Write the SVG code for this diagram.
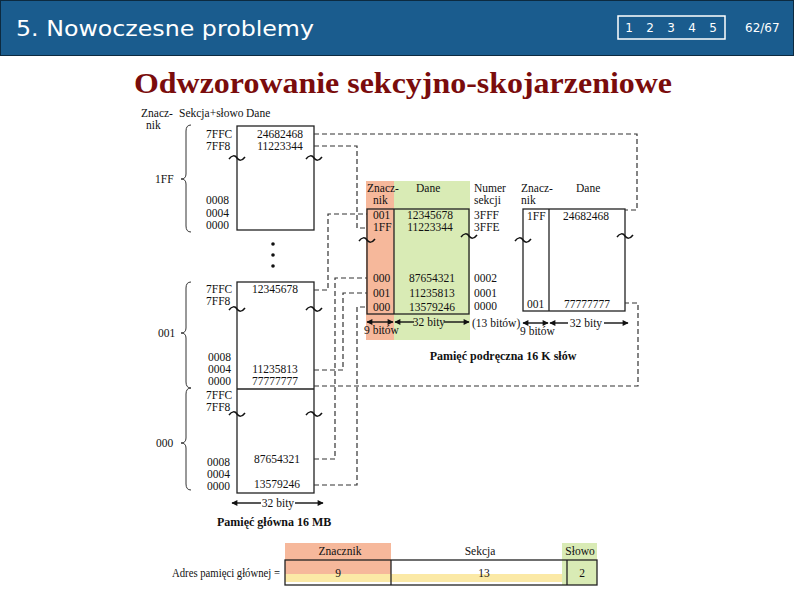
<svg xmlns="http://www.w3.org/2000/svg" width="794" height="595" viewBox="0 0 794 595">
<style>
.s{font-family:"Liberation Serif","Times New Roman",serif;font-size:11.5px;fill:#111}
.b{font-family:"Liberation Serif","Times New Roman",serif;font-size:12px;font-weight:bold;fill:#111}
.m{text-anchor:middle}
.box{fill:none;stroke:#222;stroke-width:1.3}
.til{fill:none;stroke:#111;stroke-width:1.5}
.br{fill:none;stroke:#333;stroke-width:1}
.d{fill:none;stroke:#333;stroke-width:1.2;stroke-dasharray:5 3}
.ar{stroke:#111;stroke-width:1.4;fill:none}
.hd{font-family:"DejaVu Sans",Verdana,sans-serif;fill:#fff}
</style>
<defs>
<marker id="ah" viewBox="0 0 10 10" refX="9" refY="5" markerWidth="10" markerHeight="6" orient="auto-start-reverse" markerUnits="userSpaceOnUse">
<path d="M0 0 L10 5 L0 10 Z" fill="#111"/>
</marker>
</defs>
<rect width="794" height="595" fill="#fff"/>
<g id="header">
<rect x="0.5" y="0.5" width="793" height="55" fill="#1a5c8e" stroke="#0c2a40" stroke-width="1"/>
<text class="hd" x="16" y="36" font-size="22" textLength="298" lengthAdjust="spacingAndGlyphs">5. Nowoczesne problemy</text>
<rect x="618" y="16" width="107" height="23" fill="none" stroke="#fff" stroke-width="1.5"/>
<text class="hd m" x="629" y="32" font-size="12">1</text>
<text class="hd m" x="650" y="32" font-size="12">2</text>
<text class="hd m" x="671" y="32" font-size="12">3</text>
<text class="hd m" x="692" y="32" font-size="12">4</text>
<text class="hd m" x="713" y="32" font-size="12">5</text>
<text class="hd" x="745" y="32" font-size="12">62/67</text>
</g>
<g id="title">
<text x="134" y="93" font-family="Liberation Serif,'Times New Roman',serif" font-size="30" font-weight="bold" fill="#7a0c0c" textLength="538" lengthAdjust="spacingAndGlyphs">Odwzorowanie sekcyjno-skojarzeniowe</text>
</g>
<g id="main-memory">
<text class="s" x="141" y="117">Znacz-</text>
<text class="s" x="146" y="129">nik</text>
<text class="s" x="179" y="117">Sekcja+słowo</text>
<text class="s" x="246" y="117">Dane</text>
<rect class="box" x="237" y="126" width="77" height="104"/>
<text class="s" x="206" y="138">7FFC</text>
<text class="s" x="206" y="150">7FF8</text>
<text class="s m" x="280" y="138">24682468</text>
<text class="s m" x="280" y="150">11223344</text>
<text class="s" x="206" y="204">0008</text>
<text class="s" x="206" y="217">0004</text>
<text class="s" x="206" y="229">0000</text>
<path class="br" d="M191 125 Q186 125 186 131 L186 174 Q186 179 181 179 Q186 179 186 184 L186 226 Q186 232 191 232"/>
<text class="s" x="155" y="183">1FF</text>
<circle cx="273" cy="244" r="1.8" fill="#111"/>
<circle cx="273" cy="255" r="1.8" fill="#111"/>
<circle cx="273" cy="266" r="1.8" fill="#111"/>
<rect class="box" x="237" y="282" width="77" height="211"/>
<line x1="237" y1="389" x2="314" y2="389" stroke="#222" stroke-width="1.3"/>
<text class="s" x="206" y="293">7FFC</text>
<text class="s" x="206" y="305">7FF8</text>
<text class="s m" x="275" y="293">12345678</text>
<text class="s" x="208" y="361">0008</text>
<text class="s" x="208" y="373">0004</text>
<text class="s" x="208" y="385">0000</text>
<text class="s m" x="275" y="373">11235813</text>
<text class="s m" x="275" y="385">77777777</text>
<text class="s" x="206" y="399">7FFC</text>
<text class="s" x="206" y="411">7FF8</text>
<text class="s m" x="277" y="463">87654321</text>
<text class="s m" x="277" y="488">13579246</text>
<text class="s" x="207" y="466">0008</text>
<text class="s" x="207" y="478">0004</text>
<text class="s" x="207" y="490">0000</text>
<path class="br" d="M191 282 Q186 282 186 288 L186 328 Q186 333 181 333 Q186 333 186 338 L186 382 Q186 388 191 388"/>
<text class="s" x="158" y="337">001</text>
<path class="br" d="M191 388 Q186 388 186 394 L186 438 Q186 443 181 443 Q186 443 186 448 L186 484 Q186 490 191 490"/>
<text class="s" x="156" y="447">000</text>
<path class="til" d="M229 159 C232 155 235 155 237 158 S242 161 245 157"/>
<path class="til" d="M306 159 C309 155 312 155 314 158 S319 161 322 157"/>
<path class="til" d="M229 310 C232 306 235 306 237 309 S242 312 245 308"/>
<path class="til" d="M306 310 C309 306 312 306 314 309 S319 312 322 308"/>
<path class="til" d="M229 415 C232 411 235 411 237 414 S242 417 245 413"/>
<path class="til" d="M306 415 C309 411 312 411 314 414 S319 417 322 413"/>
<line class="ar" x1="261" y1="503" x2="232" y2="503" marker-end="url(#ah)"/>
<text class="s m" x="278" y="507">32 bity</text>
<line class="ar" x1="295" y1="503" x2="323" y2="503" marker-end="url(#ah)"/>
<text class="b" x="217" y="526">Pamięć główna 16 MB</text>
</g>
<g id="cache-middle">
<rect x="366" y="181" width="28" height="159" fill="#f6b89b"/>
<rect x="394" y="181" width="76" height="159" fill="#d9ebb5"/>
<text class="s" x="367" y="192">Znacz-</text>
<text class="s" x="373" y="204">nik</text>
<text class="s" x="416" y="192">Dane</text>
<rect class="box" x="367" y="209" width="102" height="105"/>
<line x1="394" y1="209" x2="394" y2="314" stroke="#222" stroke-width="1.3"/>
<text class="s" x="373" y="219">001</text>
<text class="s" x="373" y="231">1FF</text>
<text class="s m" x="430" y="219">12345678</text>
<text class="s m" x="430" y="231">11223344</text>
<text class="s" x="373" y="282">000</text>
<text class="s" x="373" y="297">001</text>
<text class="s" x="373" y="311">000</text>
<text class="s m" x="432" y="282">87654321</text>
<text class="s m" x="432" y="297">11235813</text>
<text class="s m" x="432" y="311">13579246</text>
<path class="til" d="M359 241 C362 237 365 237 367 240 S372 243 375 239"/>
<path class="til" d="M461 237 C464 233 467 233 469 236 S474 239 477 235"/>
<line class="ar" x1="367" y1="322" x2="393" y2="322" marker-start="url(#ah)" marker-end="url(#ah)"/>
<text class="s" x="364" y="334">9 bitów</text>
<line class="ar" x1="414" y1="322" x2="395" y2="322" marker-end="url(#ah)"/>
<text class="s m" x="429" y="326">32 bity</text>
<line class="ar" x1="444" y1="322" x2="469" y2="322" marker-end="url(#ah)"/>
<text class="s" x="474" y="192">Numer</text>
<text class="s" x="474" y="204">sekcji</text>
<text class="s" x="474" y="219">3FFF</text>
<text class="s" x="474" y="231">3FFE</text>
<text class="s" x="474" y="282">0002</text>
<text class="s" x="474" y="297">0001</text>
<text class="s" x="474" y="310">0000</text>
<text class="s" x="472" y="327">(13 bitów)</text>
<text class="b m" x="503" y="360">Pamięć podręczna 16 K słów</text>
</g>
<g id="cache-right">
<text class="s" x="521" y="192">Znacz-</text>
<text class="s" x="521" y="204">nik</text>
<text class="s" x="576" y="192">Dane</text>
<rect class="box" x="523" y="209" width="102" height="102"/>
<line x1="549" y1="209" x2="549" y2="311" stroke="#222" stroke-width="1.3"/>
<text class="s" x="527" y="220">1FF</text>
<text class="s m" x="586" y="220">24682468</text>
<text class="s" x="527" y="308">001</text>
<text class="s m" x="587" y="308">77777777</text>
<path class="til" d="M515 241 C518 237 521 237 523 240 S528 243 531 239"/>
<path class="til" d="M617 237 C620 233 623 233 625 236 S630 239 633 235"/>
<line class="ar" x1="523" y1="323" x2="548" y2="323" marker-start="url(#ah)" marker-end="url(#ah)"/>
<text class="s" x="520" y="335">9 bitów</text>
<line class="ar" x1="568" y1="323" x2="550" y2="323" marker-end="url(#ah)"/>
<text class="s m" x="586" y="327">32 bity</text>
<line class="ar" x1="604" y1="323" x2="628" y2="323" marker-end="url(#ah)"/>
</g>
<g id="connectors">
<path class="d" d="M314 134 H637 V210 H625"/>
<path class="d" d="M314 146 H357 V228 H367"/>
<path class="d" d="M314 290 H328 V214 H367"/>
<path class="d" d="M314 370 H343 V293 H367"/>
<path class="d" d="M314 386 H638 V303 H625"/>
<path class="d" d="M314 459 H335 V278 H367"/>
<path class="d" d="M314 485 H357 V307 H367"/>
</g>
<g id="address">
<rect x="285" y="543" width="106" height="31" fill="#f6b89b"/>
<rect x="285" y="574" width="282" height="8" fill="#fbe9a6"/>
<rect x="562" y="543" width="35" height="42" fill="#d9ebb5"/>
<rect class="box" x="285" y="560" width="312" height="25"/>
<line x1="391" y1="560" x2="391" y2="585" stroke="#222" stroke-width="1.3"/>
<line x1="567" y1="560" x2="567" y2="585" stroke="#222" stroke-width="1.3"/>
<text class="s m" x="340" y="555">Znacznik</text>
<text class="s m" x="480" y="555">Sekcja</text>
<text class="s m" x="580" y="555">Słowo</text>
<text class="s m" x="338" y="577">9</text>
<text class="s m" x="484" y="577">13</text>
<text class="s m" x="582" y="577">2</text>
<text class="s" x="172" y="577" textLength="108" lengthAdjust="spacingAndGlyphs">Adres pamięci głównej =</text>
</g>
</svg>
